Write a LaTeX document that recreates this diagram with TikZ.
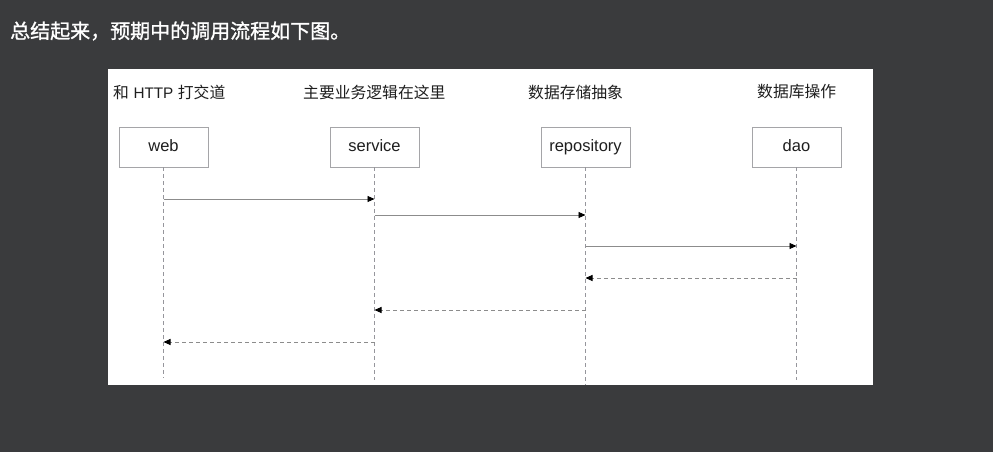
\documentclass[tikz,border=0pt]{standalone}
\usepackage{fontspec}
\setmainfont{Liberation Sans}
\newfontfamily\cjk{Noto Sans CJK SC}
\newfontfamily\cjkmed[FakeBold=1.2]{Noto Sans CJK SC}
\usetikzlibrary{arrows.meta}
\definecolor{bg}{RGB}{58,59,61}
\definecolor{linegray}{RGB}{140,140,140}
\definecolor{dashgray}{RGB}{150,150,156}
\definecolor{boxgray}{RGB}{165,165,168}
\definecolor{txt}{RGB}{30,30,30}
\tikzset{
  actor/.style={draw=boxgray, line width=0.8pt, minimum width=89pt, minimum height=40pt,
    inner sep=0pt, text height=12.6pt, text depth=3pt,
    font=\fontsize{16.5}{19}\selectfont, text=txt},
  lifeline/.style={draw=dashgray, line width=0.8pt, dash pattern=on 4pt off 3pt},
  call/.style={draw=linegray, line width=0.9pt, -{Triangle[length=7pt,width=6pt,color=black]}},
  reply/.style={call, dash pattern=on 4pt off 3pt},
  lane/.style={anchor=west, inner sep=0pt, font=\cjk\fontsize{15.8}{18}\selectfont, text=txt},
}
\begin{document}
\begin{tikzpicture}[x=1pt,y=-1pt]
\fill[bg] (0,0) rectangle (993,452);
\useasboundingbox (0,0) rectangle (993,452);
\node[anchor=west, inner sep=0pt, text=white, font=\cjkmed\fontsize{20}{23}\selectfont] (title) at (10,31) {总结起来，预期中的调用流程如下图。};
\fill[white] (108,69) rectangle (873,385);

% lane captions
\node[lane] (l1) at (113,92) {和\hspace{4.5pt}{\fontspec{Liberation Sans}\fontsize{15.3}{18}\selectfont HTTP}\hspace{4.5pt}打交道};
\node[lane] (l2) at (303,92) {主要业务逻辑在这里};
\node[lane] (l3) at (528,92) {数据存储抽象};
\node[lane] (l4) at (757,92) {数据库操作};

% actors
\node[actor] (web) at (163.5,147) {web};
\node[actor] (service) at (374.5,147) {service};
\node[actor] (repo) at (585.5,147) {repository};
\node[actor] (dao) at (796.5,147) {dao};

% lifeline ends
\coordinate (webend) at (163.5,378);
\coordinate (serviceend) at (374.5,380);
\coordinate (repoend) at (585.5,385);
\coordinate (daoend) at (796.5,380);
\draw[lifeline] (web.south) -- (webend);
\draw[lifeline] (service.south) -- (serviceend);
\draw[lifeline] (repo.south) -- (repoend);
\draw[lifeline] (dao.south) -- (daoend);

% message levels
\coordinate (m1) at (0,199);
\coordinate (m2) at (0,215);
\coordinate (m3) at (0,246);
\coordinate (m4) at (0,278);
\coordinate (m5) at (0,310);
\coordinate (m6) at (0,342);

\draw[call] (web |- m1) -- (service |- m1);
\draw[call] (service |- m2) -- (repo |- m2);
\draw[call] (repo |- m3) -- (dao |- m3);
\draw[reply] (dao |- m4) -- (repo |- m4);
\draw[reply] (repo |- m5) -- (service |- m5);
\draw[reply] (service |- m6) -- (web |- m6);
\end{tikzpicture}
\end{document}
